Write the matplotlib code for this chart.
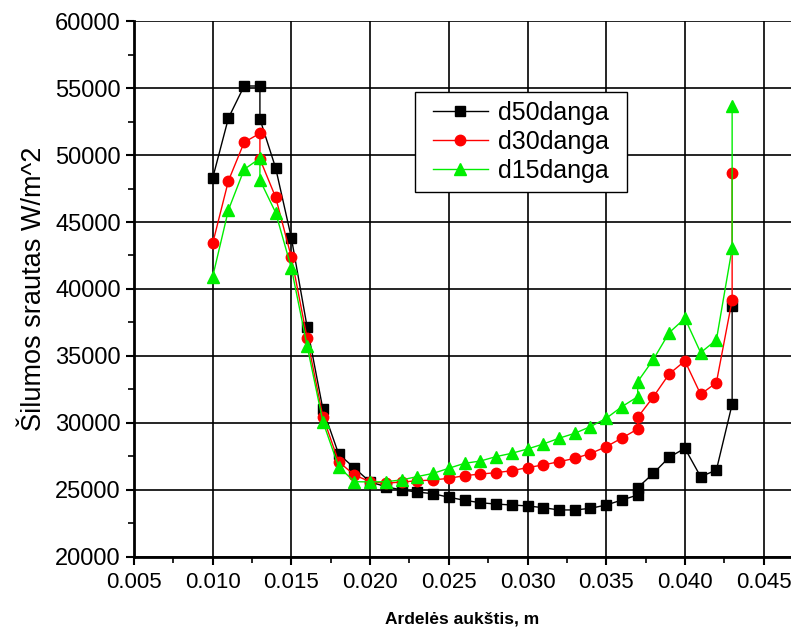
import matplotlib.pyplot as plt
from matplotlib.patches import Rectangle
from matplotlib.ticker import MultipleLocator

plt.rcParams["font.family"] = ["Liberation Sans", "DejaVu Sans"]

# x positions (m); some heights repeat because the source has two readings there
height = [
    0.010, 0.011, 0.012, 0.013, 0.013, 0.014, 0.015, 0.016, 0.017, 0.018,
    0.019, 0.020, 0.021, 0.022, 0.023, 0.024, 0.025, 0.026, 0.027, 0.028,
    0.029, 0.030, 0.031, 0.032, 0.033, 0.034, 0.035, 0.036, 0.037, 0.037,
    0.038, 0.039, 0.040, 0.041, 0.042, 0.043, 0.043,
]

d50 = [
    48280, 52760, 55150, 55150, 52690, 49030, 43800, 37160, 31040, 27690,
    26640, 25600, 25250, 25000, 24850, 24720, 24460, 24230, 24050, 23950,
    23880, 23810, 23680, 23510, 23510, 23630, 23880, 24250, 24630, 25170,
    26250, 27440, 28110, 25990, 26490, 31400, 38730,
]

d30 = [
    43410, 48080, 50950, 51620, 49700, 46840, 42360, 36320, 30470, 27110,
    26120, 25620, 25500, 25600, 25680, 25750, 25870, 26070, 26190, 26290,
    26440, 26670, 26870, 27110, 27360, 27720, 28230, 28880, 29550, 30420,
    31960, 33660, 34630, 32140, 33010, 39180, 48680,
]

d15 = [
    40920, 45900, 48930, 49750, 48130, 45700, 41550, 35750, 30100, 26740,
    25620, 25600, 25620, 25750, 26000, 26240, 26620, 26990, 27160, 27490,
    27740, 28060, 28430, 28860, 29230, 29730, 30350, 31220, 31960, 33080,
    34750, 36740, 37810, 35250, 36200, 43040, 53660,
]

fig = plt.figure(figsize=(7.91, 6.31), dpi=100)
ax = fig.add_axes([0.1694, 0.1173, 0.8306, 0.8494])

ax.plot(height, d50, color="black", linewidth=1.0, marker="s",
        markersize=6.5, label="d50danga")
ax.plot(height, d30, color="red", linewidth=1.0, marker="o",
        markersize=7.5, label="d30danga")
ax.plot(height, d15, color="#00ee00", linewidth=1.0, marker="^",
        markersize=9, label="d15danga")

ax.set_xlim(0.005, 0.04674)
ax.set_ylim(20000, 60000)

ax.xaxis.set_major_locator(MultipleLocator(0.005))
ax.xaxis.set_minor_locator(MultipleLocator(0.0025))
ax.yaxis.set_major_locator(MultipleLocator(5000))
ax.yaxis.set_minor_locator(MultipleLocator(2500))
ax.xaxis.set_major_formatter(lambda v, pos: f"{v:.3f}")

ax.grid(True, which="major", color="black", linewidth=1.2)
ax.set_axisbelow(True)

for side in ["top", "right"]:
    ax.spines[side].set_visible(False)
for side in ["left", "bottom"]:
    ax.spines[side].set_linewidth(2.0)

ax.tick_params(which="major", direction="out", length=6, width=1.5)
ax.tick_params(which="minor", direction="out", length=4, width=1.2)
ax.tick_params(axis="x", which="major", labelsize=16, pad=5)
ax.tick_params(axis="y", which="major", labelsize=17)

ax.set_ylabel("Šilumos srautas W/m^2", fontsize=19.5, labelpad=6)
ax.set_xlabel("Ardelės aukštis, m", fontsize=12.5, fontweight="bold",
              labelpad=13)

# legend box drawn separately so it can be wider than the entries
box = Rectangle((0.4277, 0.681), 0.3227, 0.1865, transform=ax.transAxes,
                facecolor="white", edgecolor="black", linewidth=1.0,
                zorder=4.5)
ax.add_patch(box)

leg = ax.legend(loc="upper left", bbox_to_anchor=(0.4414, 0.8675),
                fontsize=18, frameon=False,
                borderpad=0.35, handlelength=2.2, labelspacing=0.2,
                handletextpad=0.4, borderaxespad=0)
leg.set_zorder(5)

fig.savefig("out.png", dpi=100)
